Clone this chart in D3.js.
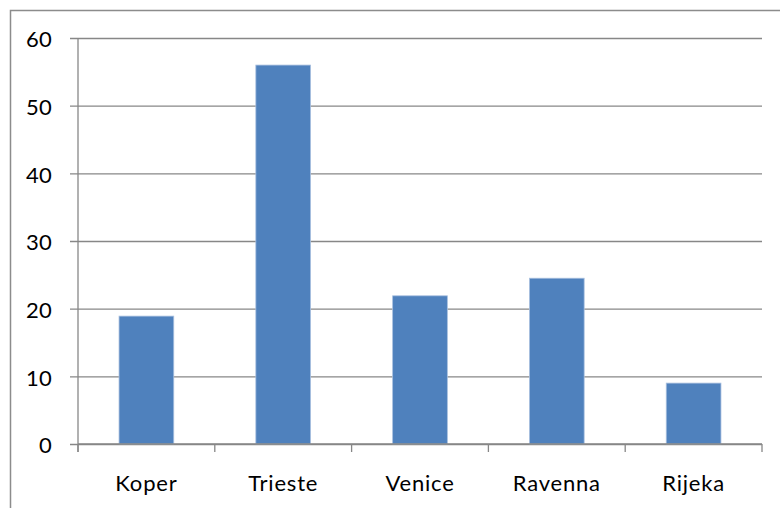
<!DOCTYPE html>
<html>
<head>
<meta charset="utf-8">
<script src="https://cdn.jsdelivr.net/npm/d3@7"></script>
<style>
  html, body { margin: 0; padding: 0; background: #fff; }
  svg { display: block; }
  text { font-family: Lato, "Open Sans", sans-serif; fill: #000; }
</style>
</head>
<body>
<svg id="chart" width="780" height="508"></svg>
<script>
// Ports and their values
const categories = ["Koper", "Trieste", "Venice", "Ravenna", "Rijeka"];
const values = [18.9, 56.0, 21.9, 24.5, 9.0];
const yTicks = [0, 10, 20, 30, 40, 50, 60];

const svg = d3.select("#chart");
const W = 780, H = 508;
const margin = { left: 78, right: 18, top: 38, bottom: 64 };
const gridColor = "#878787";

// Outer chart frame
svg.append("rect")
  .attr("x", 10.5).attr("y", 10.5)
  .attr("width", W).attr("height", H)
  .attr("fill", "none").attr("stroke", "#8c8c8c").attr("stroke-width", 1.5);

const x = d3.scaleBand()
  .domain(categories)
  .range([margin.left, W - margin.right])
  .paddingInner(0.6).paddingOuter(0.3);

const y = d3.scaleLinear()
  .domain([0, 60])
  .range([H - margin.bottom, margin.top]);

// Horizontal gridlines with left ticks
const yAxis = d3.axisLeft(y)
  .tickValues(yTicks)
  .tickSize(-(W - margin.right - margin.left))
  .tickPadding(26)
  .tickFormat(d3.format("d"));

const gy = svg.append("g")
  .attr("transform", `translate(${margin.left},0)`)
  .call(yAxis);
gy.select(".domain").remove();
gy.selectAll(".tick line")
  .attr("x1", -8)
  .attr("stroke", gridColor).attr("stroke-width", 1.3);
gy.selectAll(".tick text")
  .attr("font-size", 22)
  .attr("letter-spacing", "0.3px")
  .attr("dy", "0.4em")
  .attr("fill", "#000");

// Vertical axis line
svg.append("line")
  .attr("x1", margin.left).attr("x2", margin.left)
  .attr("y1", y(60)).attr("y2", y(0) + 8)
  .attr("stroke", gridColor).attr("stroke-width", 1.3);

// Bars
svg.append("g").selectAll("rect")
  .data(values)
  .join("rect")
  .attr("x", (d, i) => x(categories[i]))
  .attr("y", d => y(d))
  .attr("width", x.bandwidth())
  .attr("height", d => y(0) - y(d))
  .attr("fill", "#4f81bd")
  .attr("stroke", "#a9c0df")
  .attr("stroke-width", 0.8);

// Category axis: ticks at category boundaries
const step = x.step();
const xStart = margin.left;
const boundaries = d3.range(categories.length + 1).map(i => xStart + i * step);
svg.append("line")
  .attr("x1", margin.left).attr("x2", W - margin.right)
  .attr("y1", y(0)).attr("y2", y(0))
  .attr("stroke", gridColor).attr("stroke-width", 1.3);
svg.append("g").selectAll("line")
  .data(boundaries)
  .join("line")
  .attr("x1", d => d).attr("x2", d => d)
  .attr("y1", y(0)).attr("y2", y(0) + 8)
  .attr("stroke", gridColor).attr("stroke-width", 1.3);

svg.append("g").selectAll("text")
  .data(categories)
  .join("text")
  .attr("x", d => x(d) + x.bandwidth() / 2)
  .attr("y", 491)
  .attr("text-anchor", "middle")
  .attr("font-size", 22)
  .attr("letter-spacing", "0.8px")
  .text(d => d);
</script>
</body>
</html>
